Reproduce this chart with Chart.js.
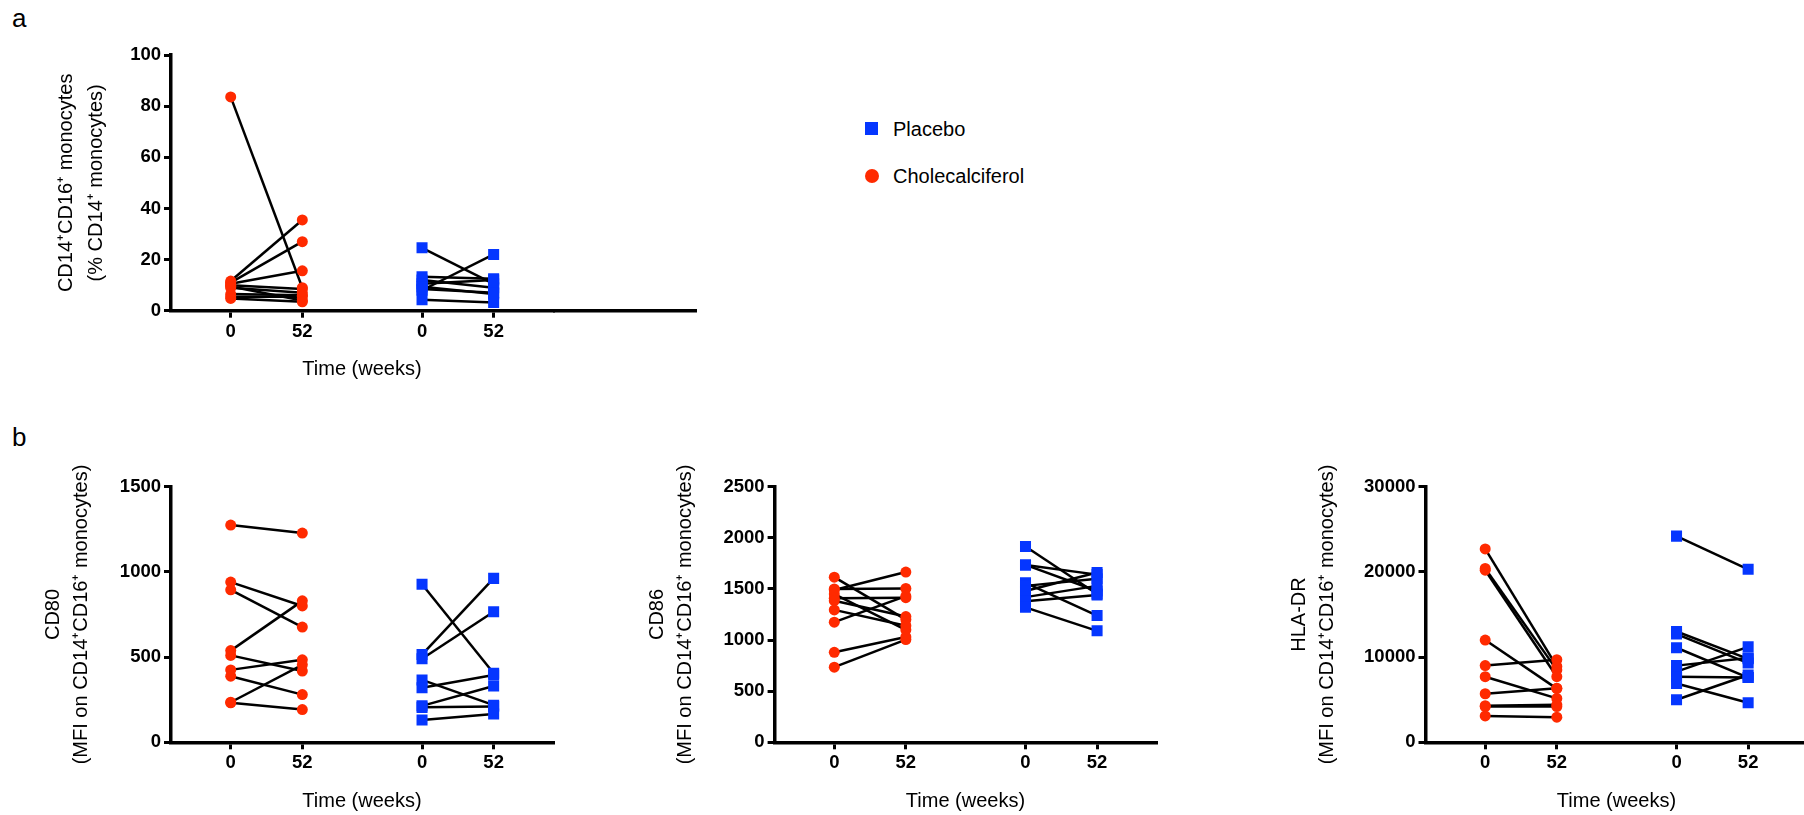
<!DOCTYPE html>
<html>
<head>
<meta charset="utf-8">
<title>CD14+CD16+ monocytes</title>
<script src="https://cdn.jsdelivr.net/npm/chart.js@4.4.1/dist/chart.umd.min.js"></script>
<style>
    html, body { margin: 0; padding: 0; background: #fff; overflow: hidden; }
    body { position: relative; width: 1804px; height: 815px; font-family: 'Liberation Sans', Arial, sans-serif; color: #000; }
    canvas { position: absolute; }
    .panel-tag { position: absolute; left: 12px; font-size: 26px; line-height: 1; }
    .legend-item { position: absolute; left: 893px; font-size: 20px; line-height: 20px; white-space: nowrap; }
    .legend-mark { position: absolute; background: #0536ff; }
</style>
</head>
<body>

<div class="panel-tag" style="top:5px">a</div>
<div class="panel-tag" style="top:424px">b</div>

<canvas id="monoChart" width="740" height="400" style="left:0; top:0"></canvas>
<canvas id="cd80Chart" width="600" height="415" style="left:0; top:400px"></canvas>
<canvas id="cd86Chart" width="600" height="415" style="left:600px; top:400px"></canvas>
<canvas id="hlaChart" width="640" height="415" style="left:1200px; top:400px"></canvas>

<div class="legend-mark" style="left:865px; top:122px; width:13px; height:13px;"></div>
<div class="legend-mark" style="left:865px; top:169px; width:14px; height:14px; border-radius:50%; background:#ff2a00;"></div>
<div class="legend-item" style="top:119px">Placebo</div>
<div class="legend-item" style="top:166px">Cholecalciferol</div>

<script>
// Groups and time points
const groups = ['Cholecalciferol', 'Placebo'];
const weeks = [0, 52];
const weekLabels = ['0', '52', '0', '52'];

// CD14+CD16+ monocytes (% of CD14+ monocytes), paired per subject
const monoCholWk0  = [83.6, 11.6, 11.0, 10.5, 10.0, 9.5, 9.0, 6.5, 5.5, 4.8];
const monoCholWk52 = [9.0, 35.5, 27.0, 15.6, 8.5, 4.0, 7.0, 6.0, 5.5, 3.5];
const monoPlacWk0  = [24.6, 8.0, 13.3, 12.0, 10.5, 9.4, 8.5, 4.3];
const monoPlacWk52 = [10.5, 22.0, 12.5, 9.0, 12.0, 6.5, 7.0, 3.2];

// CD80 MFI on CD14+CD16+ monocytes
const cd80CholWk0  = [1275, 940, 895, 538, 510, 425, 388, 235, 232];
const cd80CholWk52 = [1228, 800, 676, 830, 418, 484, 280, 455, 192];
const cd80PlacWk0  = [927, 515, 490, 366, 320, 214, 205, 131];
const cd80PlacWk52 = [405, 962, 766, 218, 395, 330, 210, 166];

// CD86 MFI on CD14+CD16+ monocytes
const cd86CholWk0  = [1615, 1490, 1500, 1450, 1410, 1385, 1295, 1175, 880, 735];
const cd86CholWk52 = [1200, 1665, 1505, 1100, 1415, 1230, 1140, 1430, 1030, 1005];
const cd86PlacWk0  = [1915, 1735, 1735, 1560, 1530, 1480, 1420, 1380, 1320];
const cd86PlacWk52 = [1450, 1640, 1480, 1240, 1600, 1660, 1530, 1440, 1090];

// HLA-DR MFI on CD14+CD16+ monocytes
const hlaCholWk0  = [22700, 20400, 20200, 12000, 9000, 7700, 5700, 4300, 4200, 3100];
const hlaCholWk52 = [8900, 8500, 7700, 6300, 9700, 5150, 6350, 4400, 4200, 2950];
const hlaPlacWk0  = [24200, 13000, 12700, 11100, 9000, 8300, 7700, 6900, 5000];
const hlaPlacWk52 = [20300, 9800, 9300, 7600, 9900, 11200, 7600, 4650, 7900];

const RED = '#ff2a00';
const BLUE = '#0536ff';

// x position of a group/week column on the shared linear axis
const GROUP_GAP = 2.672;
function slot(groupIdx, week) {
    return groupIdx * GROUP_GAP + week / 52;
}
const xSlots = [];
groups.forEach((g, gi) => weeks.forEach(w => xSlots.push(slot(gi, w))));
const X_MIN = -0.834;
const X_MAX = 4.501;

Chart.defaults.font.family = "'Liberation Sans', Arial, sans-serif";
Chart.defaults.color = '#000';

const tickFont = { size: 18.5, weight: 'bold', lineHeight: 1.2 };

// Continues the x-axis line past the chart area (panel a has a longer baseline)
const axisExtension = {
    id: 'axisExtension',
    afterDraw(chart, args, opts) {
        if (!opts.to) return;
        const xScale = chart.scales.x;
        const w = xScale.options.border.width;
        const y = Math.round(xScale.top - w / 2) + w / 2;
        const ctx = chart.ctx;
        ctx.save();
        ctx.strokeStyle = '#000';
        ctx.lineWidth = w;
        ctx.beginPath();
        ctx.moveTo(chart.chartArea.right, y);
        ctx.lineTo(opts.to, y);
        ctx.stroke();
        ctx.restore();
    }
};

function pairedDatasets(wk0, wk52, groupIdx) {
    return wk0.map((v, i) => ({
        data: [{ x: slot(groupIdx, weeks[0]), y: v }, { x: slot(groupIdx, weeks[1]), y: wk52[i] }],
        showLine: true,
        borderColor: '#000',
        borderWidth: 2.5,
        pointRadius: 0,
        order: 2
    }));
}

function groupPoints(wk0, wk52, groupIdx) {
    return wk0.map(v => ({ x: slot(groupIdx, weeks[0]), y: v }))
        .concat(wk52.map(v => ({ x: slot(groupIdx, weeks[1]), y: v })));
}

function buildPanel(canvasId, p) {
    const ctx = document.getElementById(canvasId).getContext('2d');

    const datasets = [
        ...pairedDatasets(p.chol[0], p.chol[1], 0),
        ...pairedDatasets(p.plac[0], p.plac[1], 1),
        {
            label: groups[0],
            data: groupPoints(p.chol[0], p.chol[1], 0),
            pointStyle: 'circle',
            pointRadius: 5.5,
            pointBackgroundColor: RED,
            pointBorderWidth: 0,
            showLine: false,
            order: 1
        },
        {
            label: groups[1],
            data: groupPoints(p.plac[0], p.plac[1], 1),
            pointStyle: 'rect',
            pointRadius: 7.8,
            pointBackgroundColor: BLUE,
            pointBorderWidth: 0,
            showLine: false,
            order: 1
        }
    ];

    return new Chart(ctx, {
        type: 'scatter',
        data: { datasets: datasets },
        plugins: [axisExtension],
        options: {
            responsive: false,
            animation: false,
            events: [],
            layout: {
                padding: { left: p.padLeft, top: p.padTop, right: p.padRight, bottom: p.padBottom }
            },
            plugins: {
                legend: { display: false },
                tooltip: { enabled: false },
                axisExtension: { to: p.axisTo || 0 }
            },
            scales: {
                x: {
                    type: 'linear',
                    min: X_MIN,
                    max: X_MAX,
                    afterBuildTicks: function(scale) {
                        scale.ticks = xSlots.map(v => ({ value: v }));
                    },
                    afterFit: function(scale) {
                        scale.height = p.xHeight;
                    },
                    ticks: {
                        autoSkip: false,
                        maxRotation: 0,
                        padding: 3,
                        font: tickFont,
                        callback: function(value, index) {
                            return weekLabels[index];
                        }
                    },
                    grid: { drawOnChartArea: false, tickLength: 7, lineWidth: 3, color: '#000' },
                    border: { width: 3.5, color: '#000' },
                    title: {
                        display: true,
                        text: 'Time (weeks)',
                        font: { size: 20, lineHeight: 1.4 },
                        padding: { top: 0, bottom: 0 }
                    }
                },
                y: {
                    min: 0,
                    max: p.yMax,
                    afterFit: function(scale) {
                        scale.width = p.yWidth;
                    },
                    ticks: {
                        stepSize: p.yStep,
                        padding: 3,
                        font: tickFont,
                        callback: value => String(value)
                    },
                    grid: { drawOnChartArea: false, tickLength: 7, lineWidth: 3, color: '#000' },
                    border: { width: 3.5, color: '#000' },
                    title: {
                        display: true,
                        text: p.yTitle,
                        font: { size: 20, lineHeight: p.titleLineHeight },
                        padding: { top: p.titlePad, bottom: 0 }
                    }
                }
            }
        }
    });
}

buildPanel('monoChart', {
    chol: [monoCholWk0, monoCholWk52],
    plac: [monoPlacWk0, monoPlacWk52],
    yMax: 100, yStep: 20,
    yTitle: ['CD14\u207ACD16\u207A monocytes', '(% CD14\u207A monocytes)'],
    titleLineHeight: 1.5, titlePad: 11.7,
    padLeft: 40, padTop: 55, padRight: 187, padBottom: 17,
    yWidth: 131, xHeight: 72.3,
    axisTo: 697
});

buildPanel('cd80Chart', {
    chol: [cd80CholWk0, cd80CholWk52],
    plac: [cd80PlacWk0, cd80PlacWk52],
    yMax: 1500, yStep: 500,
    yTitle: ['CD80', '(MFI on CD14\u207ACD16\u207A monocytes)'],
    titleLineHeight: 1.4, titlePad: 9.7,
    padLeft: 30, padTop: 86.7, padRight: 47, padBottom: 0,
    yWidth: 141, xHeight: 72.7
});

buildPanel('cd86Chart', {
    chol: [cd86CholWk0, cd86CholWk52],
    plac: [cd86PlacWk0, cd86PlacWk52],
    yMax: 2500, yStep: 500,
    yTitle: ['CD86', '(MFI on CD14\u207ACD16\u207A monocytes)'],
    titleLineHeight: 1.4, titlePad: 13.5,
    padLeft: 30, padTop: 86.7, padRight: 43.6, padBottom: 0,
    yWidth: 144.6, xHeight: 72.7
});

buildPanel('hlaChart', {
    chol: [hlaCholWk0, hlaCholWk52],
    plac: [hlaPlacWk0, hlaPlacWk52],
    yMax: 30000, yStep: 10000,
    yTitle: ['HLA-DR', '(MFI on CD14\u207ACD16\u207A monocytes)'],
    titleLineHeight: 1.4, titlePad: 25.4,
    padLeft: 60, padTop: 86.7, padRight: 32.5, padBottom: 0,
    yWidth: 165.5, xHeight: 72.7
});
</script>
</body>
</html>
